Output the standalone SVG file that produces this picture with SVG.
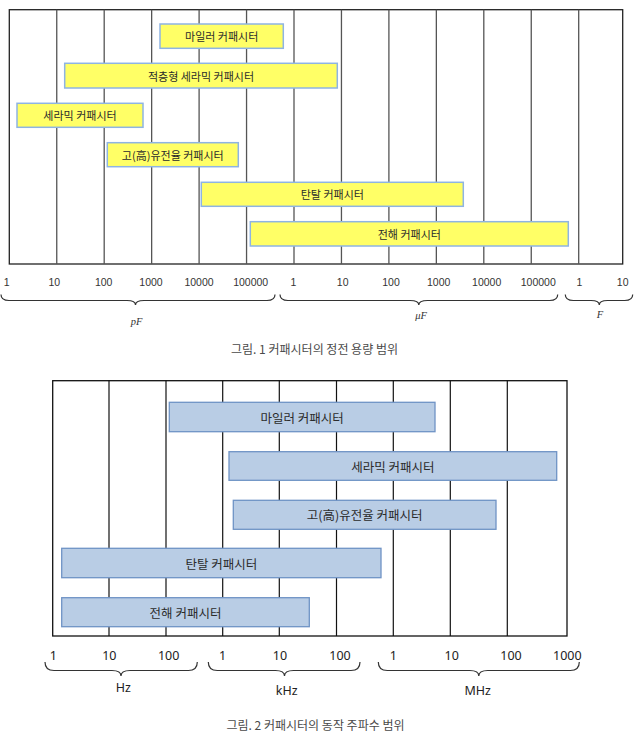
<svg xmlns="http://www.w3.org/2000/svg" width="636" height="740" viewBox="0 0 636 740">
<style>
.kr{font-family:"Noto Sans CJK KR","Noto Sans",sans-serif;text-anchor:middle;dominant-baseline:central;fill:#2b2b2b}
.t1{font-size:11px}
.t2{font-size:12.5px}
.ybox{fill:#FFFF66;stroke:#8EB4E3;stroke-width:1.5}
.bbox{fill:#B9CDE5;stroke:#6F93C5;stroke-width:1.3}
.grid1{stroke:#555;stroke-width:1.3}
.grid2{stroke:#111;stroke-width:1.2}
.num1{font-family:"Liberation Sans",Arial,sans-serif;font-size:10.5px;fill:#333;text-anchor:middle;dominant-baseline:central}
.num2{font-family:"Noto Sans","DejaVu Sans",sans-serif;font-size:12.5px;fill:#222;text-anchor:middle;dominant-baseline:central}
.unit{font-family:"Liberation Serif","Times New Roman",serif;font-style:italic;font-size:10.5px;fill:#333;text-anchor:middle;dominant-baseline:central}
.brace{fill:none;stroke:#333;stroke-width:1.2}
.cap{font-family:"Noto Sans CJK KR",sans-serif;font-size:12px;fill:#4a4a4a;text-anchor:middle;dominant-baseline:central}
</style>

<!-- Figure 1 -->
<g id="chart1-grid">
  <rect x="9.3" y="9.7" width="613.4" height="254.3" fill="#fff" stroke="#222" stroke-width="1.3"/>
  <g class="grid1">
    <line x1="56.75" y1="9.7" x2="56.75" y2="264"/>
    <line x1="104.2" y1="9.7" x2="104.2" y2="264"/>
    <line x1="151.65" y1="9.7" x2="151.65" y2="264"/>
    <line x1="199.1" y1="9.7" x2="199.1" y2="264"/>
    <line x1="246.55" y1="9.7" x2="246.55" y2="264"/>
    <line x1="294" y1="9.7" x2="294" y2="264"/>
    <line x1="341.45" y1="9.7" x2="341.45" y2="264"/>
    <line x1="388.9" y1="9.7" x2="388.9" y2="264"/>
    <line x1="436.35" y1="9.7" x2="436.35" y2="264"/>
    <line x1="483.8" y1="9.7" x2="483.8" y2="264"/>
    <line x1="531.25" y1="9.7" x2="531.25" y2="264"/>
    <line x1="578.7" y1="9.7" x2="578.7" y2="264"/>
  </g>
</g>
<g id="c1-mylar"><rect class="ybox" x="160" y="24" width="123.3" height="24.3"/><text class="kr t1" x="221.7" y="36.2">마일러 커패시터</text></g>
<g id="c1-mlcc"><rect class="ybox" x="64.7" y="63.3" width="272.6" height="24.7"/><text class="kr t1" x="201" y="75.7">적층형 세라믹 커패시터</text></g>
<g id="c1-ceramic"><rect class="ybox" x="17" y="103.3" width="126" height="24"/><text class="kr t1" x="80" y="115.3">세라믹 커패시터</text></g>
<g id="c1-highk"><rect class="ybox" x="107.3" y="142.7" width="131" height="24"/><text class="kr t1" x="172.8" y="154.7">고(高)유전율 커패시터</text></g>
<g id="c1-tantal"><rect class="ybox" x="201.3" y="182.3" width="262" height="24"/><text class="kr t1" x="332.3" y="194.3">탄탈 커패시터</text></g>
<g id="c1-electro"><rect class="ybox" x="250.3" y="221.7" width="318" height="24.3"/><text class="kr t1" x="409.3" y="233.9">전해 커패시터</text></g>

<g id="c1-axis">
  <text class="num1" x="6.7" y="281.5">1</text>
  <text class="num1" x="54.3" y="281.5">10</text>
  <text class="num1" x="103.7" y="281.5">100</text>
  <text class="num1" x="151" y="281.5">1000</text>
  <text class="num1" x="199" y="281.5">10000</text>
  <text class="num1" x="250.7" y="281.5">100000</text>
  <text class="num1" x="293.3" y="281.5">1</text>
  <text class="num1" x="342.7" y="281.5">10</text>
  <text class="num1" x="391" y="281.5">100</text>
  <text class="num1" x="438.7" y="281.5">1000</text>
  <text class="num1" x="486.7" y="281.5">10000</text>
  <text class="num1" x="538.3" y="281.5">100000</text>
  <text class="num1" x="579.3" y="281.5">1</text>
  <text class="num1" x="622.7" y="281.5">10</text>
</g>

<g id="braces">
  <path class="brace" d="M1,294.5 Q1,300.5 9,300.5 L127,300.5 Q135.5,300.5 135.5,305 Q135.5,300.5 144,300.5 L267,300.5 Q275,300.5 275,294.5"/>
  <path class="brace" d="M280,294.5 Q280,300.5 288,300.5 L410,300.5 Q418.8,300.5 418.8,305 Q418.8,300.5 427.6,300.5 L549.7,300.5 Q557.7,300.5 557.7,294.5"/>
  <path class="brace" d="M565.3,294.5 Q565.3,300.5 573.3,300.5 L591,300.5 Q599.3,300.5 599.3,305 Q599.3,300.5 607.6,300.5 L624.7,300.5 Q632.7,300.5 632.7,294.5"/>
  <path class="brace" d="M45,662 Q45,670.5 54,670.5 L112,670.5 Q121,670.5 121,676 Q121,670.5 130,670.5 L188.3,670.5 Q197.3,670.5 197.3,662"/>
  <path class="brace" d="M208.3,662 Q208.3,670.5 217.3,670.5 L275.5,670.5 Q284.5,670.5 284.5,676 Q284.5,670.5 293.5,670.5 L351,670.5 Q360,670.5 360,662"/>
  <path class="brace" d="M378.3,662 Q378.3,670.5 387.3,670.5 L469.8,670.5 Q478.8,670.5 478.8,676 Q478.8,670.5 487.8,670.5 L570.3,670.5 Q579.3,670.5 579.3,662"/>
</g>

<g id="c1-units">
  <text class="unit" x="136.7" y="321">pF</text>
  <text class="unit" x="421" y="315">μF</text>
  <text class="unit" x="600" y="314">F</text>
</g>
<text class="cap" x="314.5" y="348.3">그림. 1 커패시터의 정전 용량 범위</text>

<!-- Figure 2 -->
<g id="chart2-grid">
  <rect x="52.7" y="380.7" width="514.3" height="255.3" fill="#fff" stroke="#111" stroke-width="1.3"/>
  <g class="grid2">
    <line x1="109" y1="380.7" x2="109" y2="636"/>
    <line x1="166" y1="380.7" x2="166" y2="636"/>
    <line x1="222.7" y1="380.7" x2="222.7" y2="636"/>
    <line x1="279.3" y1="380.7" x2="279.3" y2="636"/>
    <line x1="336.5" y1="380.7" x2="336.5" y2="636"/>
    <line x1="393.3" y1="380.7" x2="393.3" y2="636"/>
    <line x1="450.3" y1="380.7" x2="450.3" y2="636"/>
    <line x1="507.3" y1="380.7" x2="507.3" y2="636"/>
  </g>
</g>
<g id="c2-mylar"><rect class="bbox" x="169.3" y="402.3" width="265.7" height="29.4"/><text class="kr t2" x="302.2" y="417">마일러 커패시터</text></g>
<g id="c2-ceramic"><rect class="bbox" x="229" y="451.7" width="327.7" height="28.6"/><text class="kr t2" x="392.8" y="466">세라믹 커패시터</text></g>
<g id="c2-highk"><rect class="bbox" x="233.3" y="500.3" width="262.7" height="29"/><text class="kr t2" x="364.7" y="514.8">고(高)유전율 커패시터</text></g>
<g id="c2-tantal"><rect class="bbox" x="61.7" y="548.3" width="319.3" height="29.4"/><text class="kr t2" x="221.3" y="563">탄탈 커패시터</text></g>
<g id="c2-electro"><rect class="bbox" x="61.7" y="597.7" width="247.6" height="29"/><text class="kr t2" x="185.5" y="612.2">전해 커패시터</text></g>

<g id="c2-axis">
  <text class="num2" x="53.3" y="655.7">1</text>
  <text class="num2" x="109.3" y="655.7">10</text>
  <text class="num2" x="168.7" y="655.7">100</text>
  <text class="num2" x="222.7" y="655.7">1</text>
  <text class="num2" x="280" y="655.7">10</text>
  <text class="num2" x="340" y="655.7">100</text>
  <text class="num2" x="393.3" y="655.7">1</text>
  <text class="num2" x="451.7" y="655.7">10</text>
  <text class="num2" x="511" y="655.7">100</text>
  <text class="num2" x="567.3" y="655.7">1000</text>
</g>
<g id="c2-units">
  <text class="num2" x="123.3" y="687.7">Hz</text>
  <text class="num2" x="286.7" y="690">kHz</text>
  <text class="num2" x="477.7" y="690">MHz</text>
</g>
<text class="cap" x="315.5" y="724.3">그림. 2 커패시터의 동작 주파수 범위</text>
</svg>
